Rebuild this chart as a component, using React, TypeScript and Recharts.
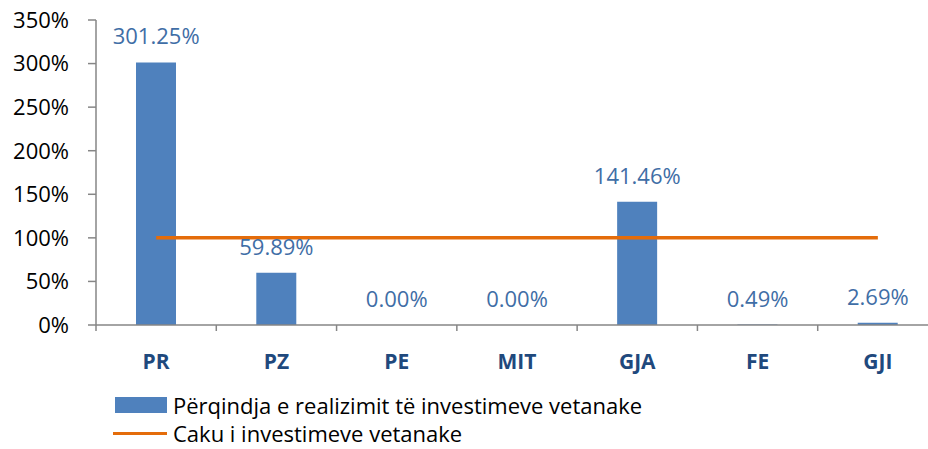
import React from 'react';
import { ComposedChart, Bar, Line, XAxis, YAxis, LabelList } from 'recharts';

// data
const categories = ['PR', 'PZ', 'PE', 'MIT', 'GJA', 'FE', 'GJI'];
const realization = [301.25, 59.89, 0.0, 0.0, 141.46, 0.49, 2.69];
const target = [100, 100, 100, 100, 100, 100, 100];
const yTicks = [0, 50, 100, 150, 200, 250, 300, 350];

const BAR_NAME = 'Përqindja e realizimit të investimeve vetanake';
const LINE_NAME = 'Caku i investimeve vetanake';

const FONT = '"Open Sans", sans-serif';
const BAR_COLOR = '#4F81BD';
const LINE_COLOR = '#E46C0A';
const AXIS_COLOR = '#868686';

// layout
const CHART_W = 938;
const CHART_H = 449;
const Y_AXIS_W = 96;
const MARGIN_TOP = 20;
const MARGIN_BOTTOM = 74;
const X_AXIS_H = 50;
const AXIS_Y = CHART_H - MARGIN_BOTTOM - X_AXIS_H;
const BAND_W = (CHART_W - Y_AXIS_W) / categories.length;

const chartData = categories.map((name, i) => ({
  name,
  realization: realization[i],
  target: target[i],
}));

export default function App() {
  return (
    <div style={{ position: 'absolute', left: 0, top: 0, width: 928, height: 449, overflow: 'hidden', background: '#fff', fontFamily: FONT }}>
      <ComposedChart width={CHART_W} height={CHART_H} data={chartData} margin={{ top: MARGIN_TOP, right: 0, left: 0, bottom: MARGIN_BOTTOM }}>
        <XAxis
          dataKey="name"
          height={X_AXIS_H}
          tickSize={0}
          tickMargin={29}
          tickLine={false}
          axisLine={{ stroke: AXIS_COLOR, strokeWidth: 1.5 }}
          tick={{ fontSize: 21, fontWeight: 'bold', fill: '#1F497D', fontFamily: FONT }}
          interval={0}
        />
        <YAxis
          width={Y_AXIS_W}
          domain={[0, 350]}
          ticks={yTicks}
          tickFormatter={(v) => `${v}%`}
          tick={{ fontSize: 22, fill: '#000', fontFamily: FONT }}
          tickSize={8}
          tickMargin={19}
          axisLine={{ stroke: AXIS_COLOR, strokeWidth: 1.5 }}
          tickLine={{ stroke: AXIS_COLOR, strokeWidth: 1.5 }}
          allowDataOverflow
        />
        <Bar dataKey="realization" name={BAR_NAME} fill={BAR_COLOR} barSize={40} isAnimationActive={false} />
        <Line
          dataKey="target"
          name={LINE_NAME}
          stroke={LINE_COLOR}
          strokeWidth={3.5}
          dot={false}
          activeDot={false}
          isAnimationActive={false}
        />
        {/* invisible carrier so the 0.00% values get their labels too */}
        <Line
          dataKey="realization"
          stroke="none"
          dot={false}
          activeDot={false}
          legendType="none"
          isAnimationActive={false}
        >
          <LabelList
            dataKey="realization"
            position="top"
            offset={18}
            fill="#3F6EA6"
            fontSize={22}
            fontFamily={FONT}
            formatter={(v: any) => `${Number(v).toFixed(2)}%`}
          />
        </Line>
      </ComposedChart>

      {/* tick marks on the category boundaries (Excel style) */}
      <svg width={928} height={449} style={{ position: 'absolute', left: 0, top: 0, pointerEvents: 'none' }}>
        {categories.map((c, i) => (
          <line
            key={c}
            x1={Y_AXIS_W + i * BAND_W}
            x2={Y_AXIS_W + i * BAND_W}
            y1={AXIS_Y}
            y2={AXIS_Y + 6}
            stroke={AXIS_COLOR}
            strokeWidth={1.5}
          />
        ))}
      </svg>

      <div style={{ position: 'absolute', left: 113, top: 391, fontSize: 22, color: '#000' }}>
        <div style={{ display: 'flex', alignItems: 'center', height: 28, lineHeight: '28px' }}>
          <div style={{ width: 52, height: 16, background: BAR_COLOR, marginLeft: 2, marginRight: 6 }} />
          <span>{BAR_NAME}</span>
        </div>
        <div style={{ display: 'flex', alignItems: 'center', height: 29, lineHeight: '29px' }}>
          <div style={{ width: 54, height: 3, background: LINE_COLOR, marginRight: 6 }} />
          <span>{LINE_NAME}</span>
        </div>
      </div>
    </div>
  );
}
